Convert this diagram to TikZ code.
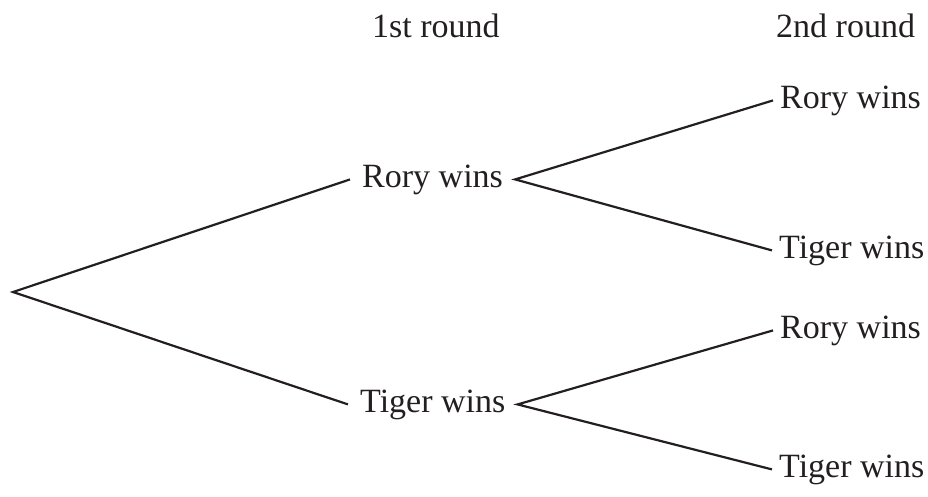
\documentclass[tikz,border=0pt]{standalone}
\usepackage{fontspec}
\setmainfont{Liberation Serif}
\definecolor{ink}{HTML}{231F20}
\begin{document}
\begin{tikzpicture}[x=1pt,y=-1pt,
  every node/.style={font=\fontsize{34}{40}\selectfont, text=ink, inner ysep=0pt},
  lvlone/.style={inner xsep=12pt, anchor=base west},
  lvltwo/.style={inner xsep=7pt, anchor=base west},
  head/.style={inner xsep=0pt, anchor=base west},
  branch/.style={draw=ink, line width=2.2pt}]
\useasboundingbox (0,0) rectangle (928,496);
\coordinate (root) at (13,292);
\node[head] (h1) at (372,37) {1st round};
\node[head] (h2) at (776,37) {2nd round};
\node[lvlone] (r1) at (350,187) {Rory wins};
\node[lvlone] (t1) at (348,412) {Tiger wins};
\node[lvltwo] (rr) at (773,108) {Rory wins};
\node[lvltwo] (rt) at (772,258) {Tiger wins};
\node[lvltwo] (tr) at (773,338) {Rory wins};
\node[lvltwo] (tt) at (772,477) {Tiger wins};
\draw[branch] (r1.west) -- (root) -- (t1.west);
\draw[branch] (rr.west) -- (r1.east) -- (rt.west);
\draw[branch] (tr.west) -- (t1.east) -- (tt.west);
\end{tikzpicture}
\end{document}
